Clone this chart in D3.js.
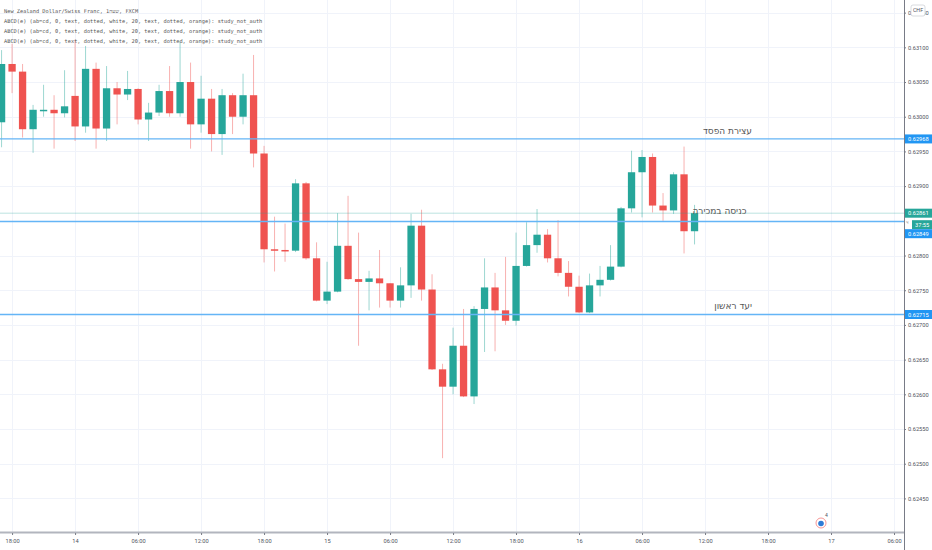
<!DOCTYPE html>
<html>
<head>
<meta charset="utf-8">
<script src="https://cdn.jsdelivr.net/npm/d3@7"></script>
<style>
  html, body { margin: 0; padding: 0; background: #ffffff; }
  svg { display: block; }
</style>
</head>
<body>
<div id="chart"></div>
<script>
// Candles: NZD/CHF, 1 hour, first bar 13th 17:00
const opens  = [0.62992, 0.63076, 0.63065, 0.62982, 0.63009, 0.63010, 0.63005, 0.63030, 0.62986, 0.63069,
                0.62983, 0.63041, 0.63032, 0.63040, 0.62996, 0.63006, 0.63037, 0.63005, 0.63050, 0.62989,
                0.63026, 0.62975, 0.63031, 0.63000, 0.63031, 0.62947, 0.62809, 0.62808, 0.62807, 0.62904,
                0.62796, 0.62735, 0.62748, 0.62814, 0.62766, 0.62762, 0.62767, 0.62760, 0.62735, 0.62757,
                0.62843, 0.62751, 0.62636, 0.62611, 0.62670, 0.62597, 0.62723, 0.62754, 0.62721, 0.62706,
                0.62785, 0.62815, 0.62830, 0.62796, 0.62775, 0.62755, 0.62718, 0.62757, 0.62765, 0.62784,
                0.62868, 0.62920, 0.62942, 0.62872, 0.62865, 0.62917, 0.62835];
const highs  = [0.63096, 0.63105, 0.63076, 0.63017, 0.63046, 0.63031, 0.63067, 0.63111, 0.63102, 0.63078,
                0.63073, 0.63050, 0.63066, 0.63041, 0.63020, 0.63046, 0.63073, 0.63108, 0.63078, 0.63059,
                0.63040, 0.63040, 0.63034, 0.63062, 0.63089, 0.62958, 0.62856, 0.62846, 0.62910, 0.62906,
                0.62819, 0.62791, 0.62861, 0.62886, 0.62833, 0.62778, 0.62808, 0.62760, 0.62783, 0.62860,
                0.62866, 0.62773, 0.62644, 0.62696, 0.62723, 0.62727, 0.62796, 0.62775, 0.62798, 0.62833,
                0.62848, 0.62867, 0.62838, 0.62851, 0.62792, 0.62771, 0.62774, 0.62785, 0.62815, 0.62870,
                0.62951, 0.62952, 0.62947, 0.62890, 0.62920, 0.62957, 0.62873];
const lows   = [0.62956, 0.63034, 0.62970, 0.62948, 0.63000, 0.62954, 0.62999, 0.62965, 0.62977, 0.62954,
                0.62965, 0.62989, 0.63024, 0.62989, 0.62965, 0.63001, 0.63000, 0.63000, 0.62954, 0.62977,
                0.62950, 0.62945, 0.62975, 0.62989, 0.62927, 0.62790, 0.62777, 0.62791, 0.62805, 0.62794,
                0.62734, 0.62730, 0.62747, 0.62765, 0.62670, 0.62721, 0.62725, 0.62725, 0.62725, 0.62739,
                0.62735, 0.62635, 0.62508, 0.62600, 0.62596, 0.62586, 0.62661, 0.62662, 0.62700, 0.62699,
                0.62784, 0.62804, 0.62790, 0.62770, 0.62741, 0.62717, 0.62717, 0.62741, 0.62764, 0.62783,
                0.62862, 0.62855, 0.62862, 0.62850, 0.62860, 0.62803, 0.62816];
const closes = [0.63076, 0.63065, 0.62982, 0.63010, 0.63010, 0.63005, 0.63015, 0.62986, 0.63069, 0.62983,
                0.63041, 0.63032, 0.63040, 0.62996, 0.63006, 0.63037, 0.63005, 0.63050, 0.62989, 0.63026,
                0.62975, 0.63031, 0.63000, 0.63031, 0.62947, 0.62809, 0.62808, 0.62806, 0.62904, 0.62796,
                0.62735, 0.62748, 0.62814, 0.62766, 0.62762, 0.62767, 0.62760, 0.62735, 0.62757, 0.62843,
                0.62751, 0.62636, 0.62611, 0.62670, 0.62597, 0.62723, 0.62754, 0.62721, 0.62706, 0.62785,
                0.62815, 0.62830, 0.62796, 0.62775, 0.62755, 0.62718, 0.62757, 0.62765, 0.62784, 0.62868,
                0.62920, 0.62942, 0.62872, 0.62865, 0.62917, 0.62835, 0.62861];

// Price axis ticks
const priceTicks = [0.6245, 0.6250, 0.6255, 0.6260, 0.6265, 0.6270, 0.6275, 0.6280,
                    0.6285, 0.6290, 0.6295, 0.6300, 0.6305, 0.6310, 0.6315];

// Horizontal levels drawn on the chart
const levelPrices = [0.62968, 0.62849, 0.62715];
const levelNotes  = ["עצירת הפסד", "כניסה במכירה", "יעד ראשון"];
const lastPrice = 0.62861;
const countdown = "37:55";

const headerLines = [
  "New Zealand Dollar/Swiss Franc, 1שעה, FXCM",
  "ABCD(e) (ab=cd, 0, text, dotted, white, 20, text, dotted, orange): study_not_auth",
  "ABCD(e) (ab=cd, 0, text, dotted, white, 20, text, dotted, orange): study_not_auth",
  "ABCD(e) (ab=cd, 0, text, dotted, white, 20, text, dotted, orange): study_not_auth"
];

// Sizes
const WIDTH = 932;
const HEIGHT = 550;
const PLOT_W = 904;
const PLOT_H = 532;

const UP = "#26a69a";
const DOWN = "#ef5350";
const LEVEL = "#64b5f6";
const LABEL_BLUE = "#2196f3";
const GRID = "#f0f3fa";
const TEXT = "#50535e";

// note placement (right edge x, lift above line)
const noteRight = [752, 746.5, 752];
const noteLift = [5, 7.5, 5.5];

const start = new Date(2020, 0, 13, 17);
const candles = opens.map((o, i) => ({
  t: d3.timeHour.offset(start, i),
  o: o, h: highs[i], l: lows[i], c: closes[i]
}));

const svg = d3.select("#chart").append("svg")
  .attr("width", WIDTH)
  .attr("height", HEIGHT);

// Scales
const xScale = d3.scaleTime()
  .domain([d3.timeMinute.offset(start, -9), d3.timeMinute.offset(start, 85 * 60 + 57)])
  .range([0, PLOT_W]);

const yScale = d3.scaleLinear()
  .domain([0.624016, 0.631682])
  .range([PLOT_H, 0]);

const timeTicks = xScale.ticks(d3.timeHour.every(6));
const fmtTime = (d) => d.getHours() === 0 ? d3.timeFormat("%-d")(d) : d3.timeFormat("%H:%M")(d);

// Grid
svg.append("g")
  .selectAll("line")
  .data(timeTicks)
  .join("line")
  .attr("x1", (d) => Math.round(xScale(d)) + 0.5)
  .attr("x2", (d) => Math.round(xScale(d)) + 0.5)
  .attr("y1", 0)
  .attr("y2", PLOT_H)
  .attr("stroke", GRID);

svg.append("g")
  .selectAll("line")
  .data(priceTicks)
  .join("line")
  .attr("x1", 0)
  .attr("x2", PLOT_W)
  .attr("y1", (d) => Math.round(yScale(d)) + 0.5)
  .attr("y2", (d) => Math.round(yScale(d)) + 0.5)
  .attr("stroke", GRID);

// Candles
const bodyW = 7.3;
const cg = svg.append("g");

cg.selectAll("line.wick")
  .data(candles)
  .join("line")
  .attr("class", "wick")
  .attr("x1", (d) => xScale(d.t))
  .attr("x2", (d) => xScale(d.t))
  .attr("y1", (d) => yScale(d.h))
  .attr("y2", (d) => yScale(d.l))
  .attr("stroke", (d) => d.c >= d.o ? UP : DOWN)
  .attr("stroke-opacity", 0.45)
  .attr("stroke-width", 1);

cg.selectAll("rect.body")
  .data(candles)
  .join("rect")
  .attr("class", "body")
  .attr("x", (d) => xScale(d.t) - bodyW / 2)
  .attr("y", (d) => yScale(Math.max(d.o, d.c)))
  .attr("width", bodyW)
  .attr("height", (d) => Math.max(1.5, Math.abs(yScale(d.o) - yScale(d.c))))
  .attr("fill", (d) => d.c >= d.o ? UP : DOWN);

// Last price line
svg.append("line")
  .attr("x1", 0)
  .attr("x2", PLOT_W)
  .attr("y1", yScale(lastPrice))
  .attr("y2", yScale(lastPrice))
  .attr("stroke", UP)
  .attr("stroke-opacity", 0.3)
  .attr("stroke-width", 1);

// Level lines + notes
svg.append("g")
  .selectAll("line")
  .data(levelPrices)
  .join("line")
  .attr("x1", 0)
  .attr("x2", PLOT_W)
  .attr("y1", (d) => yScale(d))
  .attr("y2", (d) => yScale(d))
  .attr("stroke", LEVEL)
  .attr("stroke-width", 1.3);

svg.append("g")
  .selectAll("text")
  .data(levelPrices)
  .join("text")
  .attr("x", (d, i) => noteRight[i])
  .attr("y", (d, i) => yScale(d) - noteLift[i])
  .attr("text-anchor", "end")
  .attr("font-family", "DejaVu Sans, sans-serif")
  .attr("font-size", "9px")
  .attr("fill", "#555")
  .text((d, i) => levelNotes[i]);

// Header texts
svg.append("g")
  .selectAll("text")
  .data(headerLines)
  .join("text")
  .attr("x", 4)
  .attr("y", (d, i) => 11 + i * 10)
  .attr("dy", "0.35em")
  .attr("font-family", "DejaVu Sans Mono, monospace")
  .attr("font-size", "5.3px")
  .attr("fill", "#555")
  .text((d) => d);

// Bottom (time) axis
svg.append("rect")
  .attr("x", 0).attr("y", PLOT_H).attr("width", WIDTH).attr("height", HEIGHT - PLOT_H)
  .attr("fill", "#fff");
svg.append("line")
  .attr("x1", 0).attr("x2", PLOT_W)
  .attr("y1", PLOT_H + 0.5).attr("y2", PLOT_H + 0.5)
  .attr("stroke", "#b2b5be").attr("stroke-width", 2);

const xAxis = svg.append("g")
  .attr("transform", `translate(0, ${PLOT_H + 1})`)
  .call(d3.axisBottom(xScale).tickValues(timeTicks).tickFormat(fmtTime).tickSize(2).tickPadding(4));
xAxis.select(".domain").remove();
xAxis.selectAll("line").attr("stroke", "#787b86");
xAxis.selectAll("text")
  .attr("font-family", "Roboto, sans-serif")
  .attr("font-size", "5.7px")
  .attr("fill", TEXT);

// Right (price) axis
svg.append("rect")
  .attr("x", PLOT_W).attr("y", 0).attr("width", WIDTH - PLOT_W).attr("height", HEIGHT)
  .attr("fill", "#fff");

// axis price labels that sit on the axis; tick labels colliding with them are hidden
const badgeYs = [
  { y: yScale(levelPrices[0]), fill: LABEL_BLUE, txt: d3.format(".5f")(levelPrices[0]), x0: PLOT_W + 1 },
  { y: yScale(levelPrices[2]), fill: LABEL_BLUE, txt: d3.format(".5f")(levelPrices[2]), x0: PLOT_W + 1 },
  { y: yScale(lastPrice), fill: UP, txt: d3.format(".5f")(lastPrice), x0: PLOT_W + 1 },
  { y: yScale(lastPrice) + 11.5, fill: UP, txt: countdown, x0: PLOT_W + 8 },
  { y: yScale(lastPrice) + 20.5, fill: LABEL_BLUE, txt: d3.format(".5f")(levelPrices[1]), x0: PLOT_W + 1 }
];

const shownTicks = priceTicks.filter((p) => badgeYs.every((b) => Math.abs(yScale(p) - b.y) > 8));

const yAxis = svg.append("g")
  .attr("transform", `translate(${PLOT_W}, 0)`)
  .call(d3.axisRight(yScale).tickValues(shownTicks).tickFormat(d3.format(".5f")).tickSize(2).tickPadding(2));
yAxis.select(".domain").remove();
yAxis.selectAll("line").attr("stroke", "#787b86");
yAxis.selectAll("text")
  .attr("font-family", "Roboto, sans-serif")
  .attr("font-size", "5.7px")
  .attr("fill", TEXT);

svg.append("line")
  .attr("x1", PLOT_W + 0.5).attr("x2", PLOT_W + 0.5)
  .attr("y1", 0).attr("y2", HEIGHT)
  .attr("stroke", "#787b86").attr("stroke-width", 1);

badgeYs.forEach((b) => {
  const g = svg.append("g");
  g.append("rect")
    .attr("x", b.x0).attr("y", b.y - 4.5)
    .attr("width", WIDTH - b.x0).attr("height", 9)
    .attr("fill", b.fill);
  g.append("text")
    .attr("x", b.x0 + 3).attr("y", b.y)
    .attr("dy", "0.35em")
    .attr("font-family", "Roboto, sans-serif")
    .attr("font-size", "5.7px")
    .attr("fill", "#fff")
    .text(b.txt);
});

// small marker next to countdown
svg.append("text")
  .attr("x", PLOT_W + 2).attr("y", yScale(lastPrice) + 9.5)
  .attr("dy", "0.35em")
  .attr("font-family", "Roboto, sans-serif")
  .attr("font-size", "4.5px")
  .attr("fill", "#9598a1")
  .text("ч");

// Currency badge
svg.append("rect")
  .attr("x", 911).attr("y", 5).attr("width", 14).attr("height", 11).attr("rx", 2)
  .attr("fill", "#fff").attr("stroke", "#c9cbd1").attr("stroke-width", 0.7);
svg.append("text")
  .attr("x", 918).attr("y", 10.5)
  .attr("dy", "0.35em")
  .attr("text-anchor", "middle")
  .attr("font-family", "Roboto, sans-serif")
  .attr("font-size", "5.3px")
  .attr("fill", TEXT)
  .text("CHF");

// Event marker near bottom
svg.append("circle")
  .attr("cx", 821).attr("cy", 523).attr("r", 5)
  .attr("fill", "#fff").attr("stroke", "#f48a8a").attr("stroke-width", 0.9);
svg.append("circle")
  .attr("cx", 821).attr("cy", 523.5).attr("r", 2.8)
  .attr("fill", "#2e7bd6");
svg.append("text")
  .attr("x", 825).attr("y", 517)
  .attr("font-family", "Roboto, sans-serif")
  .attr("font-size", "5px")
  .attr("fill", TEXT)
  .text("4");
</script>
</body>
</html>
